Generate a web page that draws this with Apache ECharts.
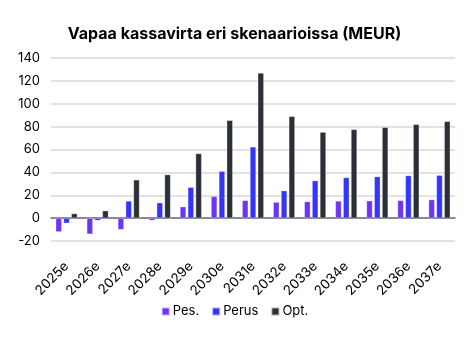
<!DOCTYPE html>
<html>
<head>
<meta charset="utf-8">
<script src="https://cdn.jsdelivr.net/npm/echarts@6/dist/echarts.min.js"></script>
<style>
  html, body { margin: 0; padding: 0; background: #fff; }
  #chart { width: 469px; height: 354px; }
</style>
</head>
<body>
<div id="chart"></div>
<script>
// vuodet
var years = ['2025e', '2026e', '2027e', '2028e', '2029e', '2030e', '2031e',
  '2032e', '2033e', '2034e', '2035e', '2036e', '2037e'];
// skenaariot
var pes = [-12, -14, -10, -2, 10, 19, 15.5, 14, 14.5, 15, 15.2, 15.5, 16.2];
var perus = [-4.5, -2, 15, 13.5, 27, 41, 62.3, 24, 32.8, 35.5, 36.3, 37.2, 37.5];
var opt = [4, 6.5, 33.5, 38, 56.5, 85.5, 126.8, 89, 75.2, 77.6, 79.4, 82, 84.6];
var yTicks = [-20, 0, 20, 40, 60, 80, 100, 120, 140];

var chart = echarts.init(document.getElementById('chart'));

function bar(name, data, color) {
  return {
    name: name,
    type: 'bar',
    data: data,
    barWidth: 6,
    barGap: '30%',
    barCategoryGap: '40%',
    itemStyle: { color: color, borderColor: 'rgba(255,255,255,0.6)', borderWidth: 0.5 }
  };
}

var option = {
  animation: false,
  title: {
    text: 'Vapaa kassavirta eri skenaarioissa (MEUR)',
    left: 'center',
    top: 21,
    textStyle: { fontFamily: 'Inter', fontSize: 16, fontWeight: 'bold', color: '#000' }
  },
  legend: {
    bottom: 31,
    left: 'center',
    itemWidth: 8,
    itemHeight: 8,
    itemGap: 12,
    icon: 'rect',
    textStyle: { fontFamily: 'Inter', fontSize: 13, color: '#000', padding: [0, 0, 0, -2] },
    data: ['Pes.', 'Perus', 'Opt.']
  },
  grid: { left: 51, right: 14, top: 58, bottom: 113 },
  xAxis: {
    type: 'category',
    data: years,
    axisTick: { show: false },
    axisLine: { onZero: true, lineStyle: { color: '#6b6e74', width: 1.5 } },
    axisLabel: {
      rotate: 45,
      interval: 0,
      margin: 23,
      fontFamily: 'Inter',
      fontSize: 13.5,
      color: '#000'
    }
  },
  yAxis: {
    type: 'value',
    min: yTicks[0],
    max: yTicks[yTicks.length - 1],
    interval: 20,
    axisLine: { show: false },
    axisTick: { show: false },
    splitLine: { lineStyle: { color: '#d9d9d9', width: 1.5 } },
    axisLabel: { fontFamily: 'Inter', fontSize: 13, color: '#000', margin: 11 }
  },
  series: [
    bar('Pes.', pes, '#6c35f4'),
    bar('Perus', perus, '#3434fb'),
    bar('Opt.', opt, '#2b2f38')
  ]
};

chart.setOption(option);
</script>
</body>
</html>
